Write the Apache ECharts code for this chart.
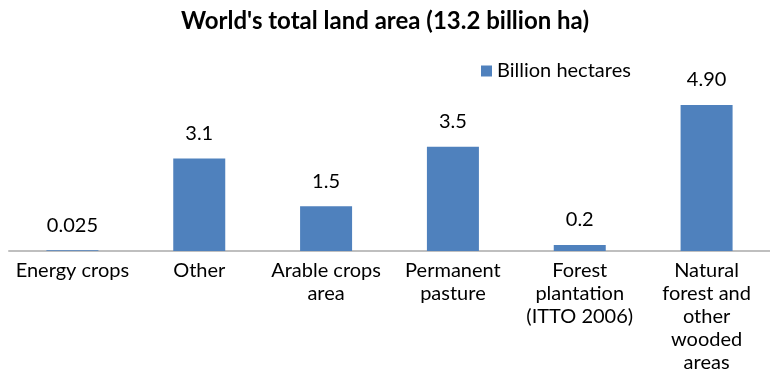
<!DOCTYPE html>
<html>
<head>
<meta charset="utf-8">
<script src="https://cdn.jsdelivr.net/npm/echarts@6/dist/echarts.min.js"></script>
<style>
  html, body { margin: 0; padding: 0; background: #fff; }
  #chart { width: 770px; height: 377px; }
</style>
</head>
<body>
<div id="chart"></div>
<script>
// Land-use categories (line breaks as set in the axis labels)
const categories = [
  'Energy crops',
  'Other',
  'Arable crops\narea',
  'Permanent\npasture',
  'Forest\nplantation\n(ITTO 2006)',
  'Natural\nforest and\nother\nwooded\nareas'
];
// Area in billion hectares
const values = [0.025, 3.1, 1.5, 3.5, 0.2, 4.9];
// Value labels as printed above each bar
const valueLabels = ['0.025', '3.1', '1.5', '3.5', '0.2', '4.90'];

const FONT = 'Lato, "Open Sans", sans-serif';

const chart = echarts.init(document.getElementById('chart'));
chart.setOption({
  backgroundColor: '#ffffff',
  animation: false,
  title: {
    text: "World's total land area (13.2 billion ha)",
    left: 'center',
    top: 4,
    textStyle: { fontFamily: FONT, fontSize: 24, fontWeight: 'bold', color: '#000' }
  },
  legend: {
    data: ['Billion hectares'],
    left: 476,
    top: 56,
    icon: 'rect',
    itemWidth: 11,
    itemHeight: 11,
    itemGap: 6,
    textStyle: { fontFamily: FONT, fontSize: 20, color: '#000' }
  },
  grid: { left: 9, right: -7, top: 102, bottom: 126 },
  xAxis: {
    type: 'category',
    data: categories,
    axisLine: { lineStyle: { color: '#bfbfbf', width: 2 } },
    axisTick: { show: false },
    axisLabel: {
      interval: 0,
      margin: 8,
      fontFamily: FONT,
      fontSize: 20,
      lineHeight: 23,
      color: '#000',
      align: 'center'
    }
  },
  yAxis: {
    type: 'value',
    min: 0,
    max: 5,
    show: false,
    splitLine: { show: false }
  },
  series: [{
    name: 'Billion hectares',
    type: 'bar',
    data: values,
    barWidth: 52,
    itemStyle: { color: '#4f81bd' },
    label: {
      show: true,
      position: 'top',
      distance: 15,
      fontFamily: FONT,
      fontSize: 20,
      color: '#000',
      formatter: p => valueLabels[p.dataIndex]
    }
  }]
});
</script>
</body>
</html>
